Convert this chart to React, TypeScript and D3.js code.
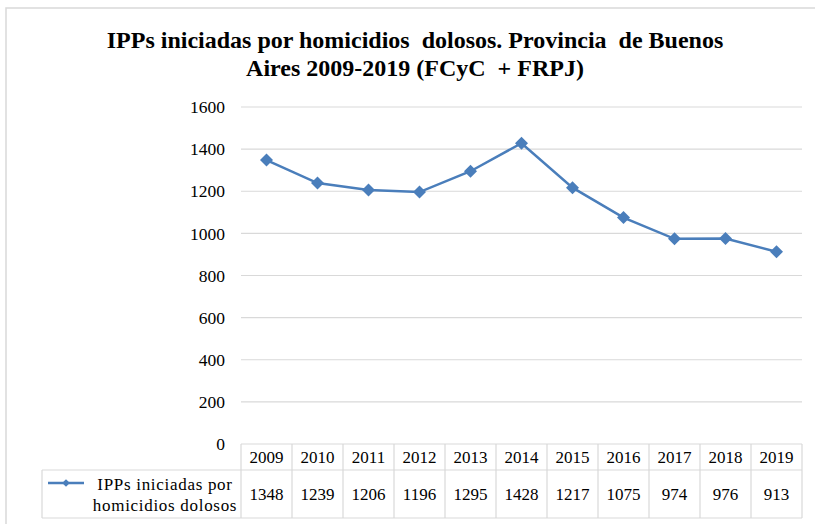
import * as d3 from "d3";

const years = ["2009", "2010", "2011", "2012", "2013", "2014", "2015", "2016", "2017", "2018", "2019"];
const values = [1348, 1239, 1206, 1196, 1295, 1428, 1217, 1075, 974, 976, 913];
const yTicks = [0, 200, 400, 600, 800, 1000, 1200, 1400, 1600];
const titleLines = ["IPPs iniciadas por homicidios  dolosos. Provincia  de Buenos", "Aires 2009-2019 (FCyC  + FRPJ)"];
const seriesName = ["IPPs iniciadas por", "homicidios dolosos"];

const W = 815;
const H = 524;
const LINE = "#4a7ebb";
const GRID = "#d9d9d9";
const FONT = "Liberation Serif, Times New Roman, DejaVu Serif, serif";

export default function App() {
  const x = d3.scaleBand().domain(years).range([241, 802]);
  const y = d3.scaleLinear().domain([0, 1600]).range([444, 107]);
  const tableTop = y(0);
  const rowMid = 470;
  const tableBottom = 518;
  const legendLeft = 42;

  const line = d3
    .line<number>()
    .x((_, i) => x(years[i])! + x.bandwidth() / 2)
    .y((d) => y(d));

  const marker = d3.symbol(d3.symbolSquare, 85)()!;

  return (
    <svg
      width={W}
      height={H}
      style={{ position: "fixed", left: 0, top: 0, background: "#fff", fontFamily: FONT }}
    >
      <rect x={6} y={8} width={W} height={H} fill="#fff" stroke={GRID} strokeWidth={1.5} />

      {titleLines.map((t, i) => (
        <text
          key={i}
          x={415}
          y={48 + i * 28}
          textAnchor="middle"
          fontSize={24}
          fontWeight="bold"
          fill="#000"
          style={{ whiteSpace: "pre" }}
        >
          {t}
        </text>
      ))}

      {yTicks.map((t) => (
        <g key={t}>
          {t > 0 && <line x1={241} x2={802} y1={y(t)} y2={y(t)} stroke={GRID} strokeWidth={1.2} />}
          <text x={225} y={y(t)} dy="0.35em" textAnchor="end" fontSize={17.5} fill="#000">
            {t}
          </text>
        </g>
      ))}

      {/* data table */}
      <g stroke={GRID} strokeWidth={1.2} fill="none">
        <line x1={241} x2={802} y1={tableTop} y2={tableTop} />
        <line x1={legendLeft} x2={802} y1={rowMid} y2={rowMid} />
        <line x1={legendLeft} x2={802} y1={tableBottom} y2={tableBottom} />
        <line x1={legendLeft} x2={legendLeft} y1={rowMid} y2={tableBottom} />
        {years.map((yr) => (
          <line key={yr} x1={x(yr)!} x2={x(yr)!} y1={tableTop} y2={tableBottom} />
        ))}
        <line x1={802} x2={802} y1={tableTop} y2={tableBottom} />
      </g>
      {years.map((yr, i) => (
        <g key={yr}>
          <text x={x(yr)! + x.bandwidth() / 2} y={(tableTop + rowMid) / 2} dy="0.35em" textAnchor="middle" fontSize={17}>
            {yr}
          </text>
          <text x={x(yr)! + x.bandwidth() / 2} y={(rowMid + tableBottom) / 2} dy="0.35em" textAnchor="middle" fontSize={17}>
            {values[i]}
          </text>
        </g>
      ))}

      {/* legend key */}
      <line x1={48} x2={84} y1={483} y2={483} stroke={LINE} strokeWidth={2.5} />
      <path d={d3.symbol(d3.symbolSquare, 30)()!} transform="translate(66,483) rotate(45)" fill={LINE} />
      {seriesName.map((s, i) => (
        <text key={i} x={165} y={490 + i * 21} textAnchor="middle" fontSize={17} letterSpacing={0.7}>
          {s}
        </text>
      ))}

      {/* series */}
      <path d={line(values)!} fill="none" stroke={LINE} strokeWidth={2.5} />
      {values.map((v, i) => (
        <path
          key={i}
          d={marker}
          transform={`translate(${x(years[i])! + x.bandwidth() / 2},${y(v)}) rotate(45)`}
          fill={LINE}
        />
      ))}
    </svg>
  );
}
